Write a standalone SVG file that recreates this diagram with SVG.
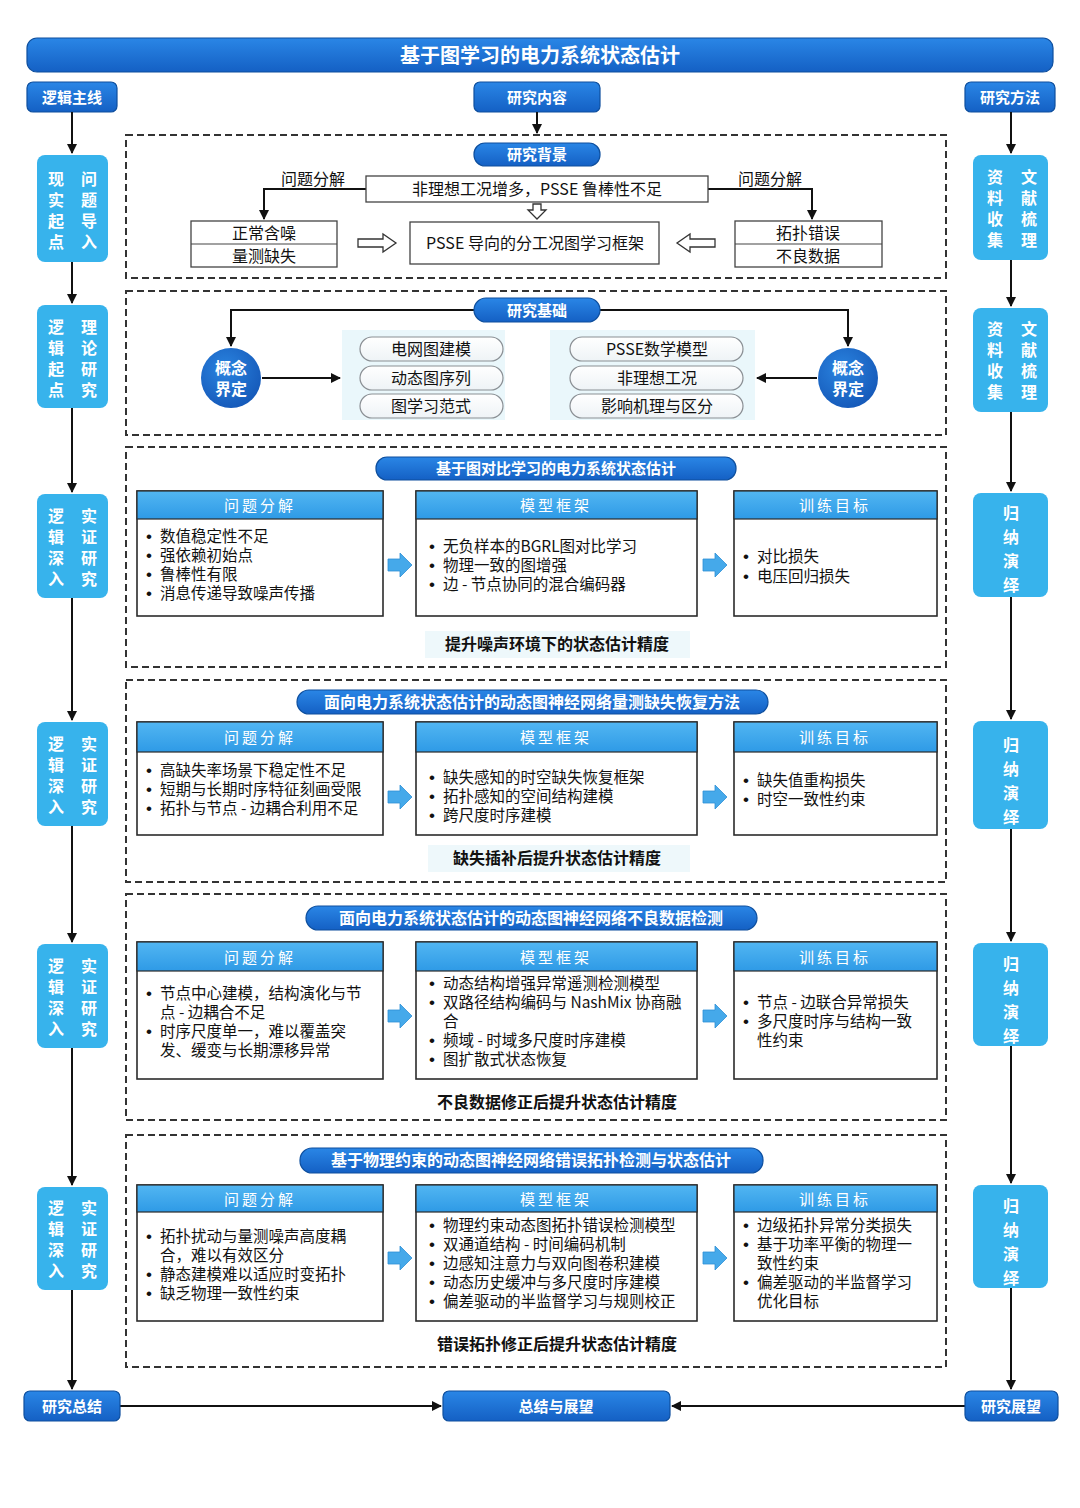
<svg xmlns="http://www.w3.org/2000/svg" width="1080" height="1508" viewBox="0 0 1080 1508">
<defs>
<linearGradient id="gBlue" x1="0" y1="0" x2="0" y2="1"><stop offset="0" stop-color="#2a86e6"/><stop offset="1" stop-color="#1460c4"/></linearGradient>
<linearGradient id="gHead" x1="0" y1="0" x2="0" y2="1"><stop offset="0" stop-color="#52b6f2"/><stop offset="1" stop-color="#2e9ae6"/></linearGradient>
<linearGradient id="gPill" x1="0" y1="0" x2="0" y2="1"><stop offset="0" stop-color="#ffffff"/><stop offset="1" stop-color="#eef3f6"/></linearGradient>
<radialGradient id="gCirc" cx="0.4" cy="0.35" r="0.7"><stop offset="0" stop-color="#2a84e0"/><stop offset="1" stop-color="#1558b8"/></radialGradient>
<marker id="ah" viewBox="0 0 10 10" refX="9" refY="5" markerWidth="10" markerHeight="10" markerUnits="userSpaceOnUse" orient="auto"><path d="M0,0 L10,5 L0,10 z" fill="#111"/></marker>
<g id="blk"><path d="M0,-6 H12 V-12 L24,0 L12,12 V6 H0 z" fill="#45a9ea" stroke="#2f8fd6" stroke-width="0.8"/></g>
</defs>
<style>
text{font-family:"Noto Sans CJK SC","Liberation Sans",sans-serif;}
.t{fill:#fff;font-weight:700;text-anchor:middle;}
.bar{fill:url(#gBlue);stroke:#0e4f9e;stroke-width:1.2;}
.col{fill:#37b3ec;}
.ct{fill:#fff;font-weight:700;font-size:16px;text-anchor:middle;}
.ln{fill:none;stroke:#111;stroke-width:2;}
.dash{fill:none;stroke:#333;stroke-width:2;stroke-dasharray:7 4;}
.bx{fill:#fff;stroke:#444;stroke-width:1.3;}
.bt{fill:#111;font-size:16px;text-anchor:middle;}
.hol{fill:#fff;stroke:#333;stroke-width:1.3;}
.pan{fill:#eaf7fb;}
.pl{fill:url(#gPill);stroke:#8a8f94;stroke-width:1.2;}
.pt{fill:#111;font-size:16px;text-anchor:middle;}
.card{fill:#fff;stroke:#2b2b2b;stroke-width:1.6;}
.hd{fill:url(#gHead);stroke:#2b2b2b;stroke-width:1.2;}
.ht{fill:#fff;font-size:15px;text-anchor:middle;letter-spacing:3px;}
.it{fill:#111;font-size:15.5px;}
.bu{font-family:"Liberation Sans",sans-serif;font-size:17px;}
.res{fill:#111;font-size:16px;font-weight:700;text-anchor:middle;}
.resbg{fill:#eef8fb;}
</style>
<rect width="1080" height="1508" fill="#fff"/>

<g id="title"><rect class="bar" x="27" y="38" width="1026" height="34" rx="10"/><text class="t" x="540" y="63" font-size="20">基于图学习的电力系统状态估计</text></g>
<g id="lbl-logic"><rect class="bar" x="27" y="82" width="90" height="30" rx="6"/><text class="t" x="72" y="103" font-size="15">逻辑主线</text></g>
<g id="lbl-content"><rect class="bar" x="474" y="82" width="126" height="30" rx="6"/><text class="t" x="537" y="103" font-size="15">研究内容</text></g>
<g id="lbl-method"><rect class="bar" x="965" y="82" width="90" height="30" rx="6"/><text class="t" x="1010" y="103" font-size="15">研究方法</text></g>

<g id="connectors">
<path class="ln" d="M72 112 V153" marker-end="url(#ah)"/>
<path class="ln" d="M72 262 V303" marker-end="url(#ah)"/>
<path class="ln" d="M72 408 V492" marker-end="url(#ah)"/>
<path class="ln" d="M72 598 V720" marker-end="url(#ah)"/>
<path class="ln" d="M72 826 V942" marker-end="url(#ah)"/>
<path class="ln" d="M72 1048 V1185" marker-end="url(#ah)"/>
<path class="ln" d="M72 1290 V1389" marker-end="url(#ah)"/>
<path class="ln" d="M1011 112 V153" marker-end="url(#ah)"/>
<path class="ln" d="M1011 260 V306" marker-end="url(#ah)"/>
<path class="ln" d="M1011 412 V491" marker-end="url(#ah)"/>
<path class="ln" d="M1011 597 V719" marker-end="url(#ah)"/>
<path class="ln" d="M1011 829 V941" marker-end="url(#ah)"/>
<path class="ln" d="M1011 1046 V1183" marker-end="url(#ah)"/>
<path class="ln" d="M1011 1288 V1389" marker-end="url(#ah)"/>
<path class="ln" d="M537 112 V133" marker-end="url(#ah)"/>
<path class="ln" d="M366 189 H264 V219" marker-end="url(#ah)"/>
<path class="ln" d="M708 189 H812 V219" marker-end="url(#ah)"/>
<path class="ln" d="M474 310 H231 V346" marker-end="url(#ah)"/>
<path class="ln" d="M600 310 H848 V346" marker-end="url(#ah)"/>
<path class="ln" d="M262 378 H340" marker-end="url(#ah)"/>
<path class="ln" d="M817 378 H757" marker-end="url(#ah)"/>
<path class="ln" d="M120 1406 H441" marker-end="url(#ah)"/>
<path class="ln" d="M965 1406 H672" marker-end="url(#ah)"/>
<path class="hol" d="M533 204 H541 V210 H546 L537 219 L528 210 H533 z"/>
<path class="hol" d="M358 239 H383 V234 L396 243 L383 252 V247 H358 z"/>
<path class="hol" d="M715 239 H690 V234 L677 243 L690 252 V247 H715 z"/>
<use href="#blk" x="388" y="565"/><use href="#blk" x="703" y="565"/>
<use href="#blk" x="388" y="797"/><use href="#blk" x="703" y="797"/>
<use href="#blk" x="388" y="1016"/><use href="#blk" x="703" y="1016"/>
<use href="#blk" x="388" y="1258"/><use href="#blk" x="703" y="1258"/>
</g>

<!-- left column -->
<g id="L1"><rect class="col" x="37" y="155" width="71" height="107" rx="8"/>
<text class="ct"><tspan x="56" y="185">现</tspan><tspan x="56" y="206">实</tspan><tspan x="56" y="227">起</tspan><tspan x="56" y="248">点</tspan><tspan x="89" y="185">问</tspan><tspan x="89" y="206">题</tspan><tspan x="89" y="227">导</tspan><tspan x="89" y="248">入</tspan></text></g>
<g id="L2"><rect class="col" x="37" y="305" width="71" height="103" rx="8"/>
<text class="ct"><tspan x="56" y="333">逻</tspan><tspan x="56" y="354">辑</tspan><tspan x="56" y="375">起</tspan><tspan x="56" y="396">点</tspan><tspan x="89" y="333">理</tspan><tspan x="89" y="354">论</tspan><tspan x="89" y="375">研</tspan><tspan x="89" y="396">究</tspan></text></g>
<g id="L3"><rect class="col" x="37" y="494" width="71" height="104" rx="8"/>
<text class="ct"><tspan x="56" y="522">逻</tspan><tspan x="56" y="543">辑</tspan><tspan x="56" y="564">深</tspan><tspan x="56" y="585">入</tspan><tspan x="89" y="522">实</tspan><tspan x="89" y="543">证</tspan><tspan x="89" y="564">研</tspan><tspan x="89" y="585">究</tspan></text></g>
<g id="L4"><rect class="col" x="37" y="722" width="71" height="104" rx="8"/>
<text class="ct"><tspan x="56" y="750">逻</tspan><tspan x="56" y="771">辑</tspan><tspan x="56" y="792">深</tspan><tspan x="56" y="813">入</tspan><tspan x="89" y="750">实</tspan><tspan x="89" y="771">证</tspan><tspan x="89" y="792">研</tspan><tspan x="89" y="813">究</tspan></text></g>
<g id="L5"><rect class="col" x="37" y="944" width="71" height="104" rx="8"/>
<text class="ct"><tspan x="56" y="972">逻</tspan><tspan x="56" y="993">辑</tspan><tspan x="56" y="1014">深</tspan><tspan x="56" y="1035">入</tspan><tspan x="89" y="972">实</tspan><tspan x="89" y="993">证</tspan><tspan x="89" y="1014">研</tspan><tspan x="89" y="1035">究</tspan></text></g>
<g id="L6"><rect class="col" x="37" y="1187" width="71" height="103" rx="8"/>
<text class="ct"><tspan x="56" y="1214">逻</tspan><tspan x="56" y="1235">辑</tspan><tspan x="56" y="1256">深</tspan><tspan x="56" y="1277">入</tspan><tspan x="89" y="1214">实</tspan><tspan x="89" y="1235">证</tspan><tspan x="89" y="1256">研</tspan><tspan x="89" y="1277">究</tspan></text></g>

<!-- right column -->
<g id="R1"><rect class="col" x="973" y="155" width="75" height="105" rx="8"/>
<text class="ct"><tspan x="995" y="183">资</tspan><tspan x="995" y="204">料</tspan><tspan x="995" y="225">收</tspan><tspan x="995" y="246">集</tspan><tspan x="1029" y="183">文</tspan><tspan x="1029" y="204">献</tspan><tspan x="1029" y="225">梳</tspan><tspan x="1029" y="246">理</tspan></text></g>
<g id="R2"><rect class="col" x="973" y="308" width="75" height="104" rx="8"/>
<text class="ct"><tspan x="995" y="335">资</tspan><tspan x="995" y="356">料</tspan><tspan x="995" y="377">收</tspan><tspan x="995" y="398">集</tspan><tspan x="1029" y="335">文</tspan><tspan x="1029" y="356">献</tspan><tspan x="1029" y="377">梳</tspan><tspan x="1029" y="398">理</tspan></text></g>
<g id="R3"><rect class="col" x="973" y="493" width="75" height="104" rx="8"/>
<text class="ct" font-size="17"><tspan x="1011" y="519">归</tspan><tspan x="1011" y="543">纳</tspan><tspan x="1011" y="567">演</tspan><tspan x="1011" y="591">绎</tspan></text></g>
<g id="R4"><rect class="col" x="973" y="721" width="75" height="108" rx="8"/>
<text class="ct"><tspan x="1011" y="751">归</tspan><tspan x="1011" y="775">纳</tspan><tspan x="1011" y="799">演</tspan><tspan x="1011" y="823">绎</tspan></text></g>
<g id="R5"><rect class="col" x="973" y="943" width="75" height="103" rx="8"/>
<text class="ct"><tspan x="1011" y="970">归</tspan><tspan x="1011" y="994">纳</tspan><tspan x="1011" y="1018">演</tspan><tspan x="1011" y="1042">绎</tspan></text></g>
<g id="R6"><rect class="col" x="973" y="1185" width="75" height="103" rx="8"/>
<text class="ct"><tspan x="1011" y="1212">归</tspan><tspan x="1011" y="1236">纳</tspan><tspan x="1011" y="1260">演</tspan><tspan x="1011" y="1284">绎</tspan></text></g>

<!-- section 1 -->
<g id="S1">
<rect class="dash" x="126" y="135" width="820" height="143"/>
<rect class="bar" x="474" y="143" width="126" height="23" rx="11"/><text class="t" x="537" y="160" font-size="15">研究背景</text>
<text class="bt" x="313" y="185">问题分解</text><text class="bt" x="770" y="185">问题分解</text>
<rect class="bx" x="366" y="176" width="342" height="26"/><text class="bt" x="537" y="195">非理想工况增多，PSSE 鲁棒性不足</text>
<rect class="bx" x="191" y="221" width="146" height="46"/><line x1="191" y1="244" x2="337" y2="244" stroke="#444" stroke-width="1.2"/>
<text class="bt" x="264" y="239">正常含噪</text><text class="bt" x="264" y="262">量测缺失</text>
<rect class="bx" x="410" y="222" width="249" height="42"/><text class="bt" x="535" y="249">PSSE 导向的分工况图学习框架</text>
<rect class="bx" x="735" y="221" width="147" height="46"/><line x1="735" y1="244" x2="882" y2="244" stroke="#444" stroke-width="1.2"/>
<text class="bt" x="808" y="239">拓扑错误</text><text class="bt" x="808" y="262">不良数据</text>
</g>

<!-- section 2 -->
<g id="S2">
<rect class="dash" x="126" y="291" width="820" height="144"/>
<rect class="bar" x="474" y="298" width="126" height="24" rx="12"/><text class="t" x="537" y="316" font-size="15">研究基础</text>
<rect class="pan" x="342" y="330" width="163" height="90"/><rect class="pan" x="550" y="330" width="205" height="90"/>
<circle cx="231" cy="378" r="30" fill="url(#gCirc)"/><text class="ct"><tspan x="231" y="374">概念</tspan><tspan x="231" y="395">界定</tspan></text>
<circle cx="848" cy="378" r="30" fill="url(#gCirc)"/><text class="ct"><tspan x="848" y="374">概念</tspan><tspan x="848" y="395">界定</tspan></text>
<rect class="pl" x="360" y="337" width="143" height="24" rx="12"/><text class="pt" x="431" y="355">电网图建模</text>
<rect class="pl" x="360" y="366" width="143" height="24" rx="12"/><text class="pt" x="431" y="384">动态图序列</text>
<rect class="pl" x="360" y="394" width="143" height="24" rx="12"/><text class="pt" x="431" y="412">图学习范式</text>
<rect class="pl" x="570" y="337" width="173" height="24" rx="12"/><text class="pt" x="657" y="355">PSSE数学模型</text>
<rect class="pl" x="570" y="366" width="173" height="24" rx="12"/><text class="pt" x="657" y="384">非理想工况</text>
<rect class="pl" x="570" y="394" width="173" height="24" rx="12"/><text class="pt" x="657" y="412">影响机理与区分</text>
</g>

<!-- section 3 -->
<g id="S3">
<rect class="dash" x="126" y="447" width="820" height="220"/>
<rect class="bar" x="376" y="457" width="360" height="23" rx="11"/><text class="t" x="556" y="474" font-size="15">基于图对比学习的电力系统状态估计</text>
<rect class="card" x="137" y="491" width="246" height="125"/><rect class="hd" x="137" y="491" width="246" height="28"/><text class="ht" x="260" y="511">问题分解</text>
<text class="it"><tspan class="bu" x="146" y="542">•</tspan><tspan dx="8">数值稳定性不足</tspan><tspan class="bu" x="146" y="561">•</tspan><tspan dx="8">强依赖初始点</tspan><tspan class="bu" x="146" y="580">•</tspan><tspan dx="8">鲁棒性有限</tspan><tspan class="bu" x="146" y="599">•</tspan><tspan dx="8">消息传递导致噪声传播</tspan></text>
<rect class="card" x="416" y="491" width="281" height="125"/><rect class="hd" x="416" y="491" width="281" height="28"/><text class="ht" x="556" y="511">模型框架</text>
<text class="it"><tspan class="bu" x="429" y="552">•</tspan><tspan dx="8">无负样本的BGRL图对比学习</tspan><tspan class="bu" x="429" y="571">•</tspan><tspan dx="8">物理一致的图增强</tspan><tspan class="bu" x="429" y="590">•</tspan><tspan dx="8">边 - 节点协同的混合编码器</tspan></text>
<rect class="card" x="734" y="491" width="203" height="125"/><rect class="hd" x="734" y="491" width="203" height="28"/><text class="ht" x="835" y="511">训练目标</text>
<text class="it"><tspan class="bu" x="743" y="562">•</tspan><tspan dx="8">对比损失</tspan><tspan class="bu" x="743" y="582">•</tspan><tspan dx="8">电压回归损失</tspan></text>
<rect class="resbg" x="425" y="631" width="265" height="27"/><text class="res" x="557" y="650">提升噪声环境下的状态估计精度</text>
</g>

<!-- section 4 -->
<g id="S4">
<rect class="dash" x="126" y="680" width="820" height="202"/>
<rect class="bar" x="297" y="690" width="471" height="24" rx="12"/><text class="t" x="532" y="708" font-size="16">面向电力系统状态估计的动态图神经网络量测缺失恢复方法</text>
<rect class="card" x="137" y="722" width="246" height="113"/><rect class="hd" x="137" y="722" width="246" height="30"/><text class="ht" x="260" y="743">问题分解</text>
<text class="it"><tspan class="bu" x="146" y="776">•</tspan><tspan dx="8">高缺失率场景下稳定性不足</tspan><tspan class="bu" x="146" y="795">•</tspan><tspan dx="8">短期与长期时序特征刻画受限</tspan><tspan class="bu" x="146" y="814">•</tspan><tspan dx="8">拓扑与节点 - 边耦合利用不足</tspan></text>
<rect class="card" x="416" y="722" width="281" height="113"/><rect class="hd" x="416" y="722" width="281" height="30"/><text class="ht" x="556" y="743">模型框架</text>
<text class="it"><tspan class="bu" x="429" y="783">•</tspan><tspan dx="8">缺失感知的时空缺失恢复框架</tspan><tspan class="bu" x="429" y="802">•</tspan><tspan dx="8">拓扑感知的空间结构建模</tspan><tspan class="bu" x="429" y="821">•</tspan><tspan dx="8">跨尺度时序建模</tspan></text>
<rect class="card" x="734" y="722" width="203" height="113"/><rect class="hd" x="734" y="722" width="203" height="30"/><text class="ht" x="835" y="743">训练目标</text>
<text class="it"><tspan class="bu" x="743" y="786">•</tspan><tspan dx="8">缺失值重构损失</tspan><tspan class="bu" x="743" y="805">•</tspan><tspan dx="8">时空一致性约束</tspan></text>
<rect class="resbg" x="428" y="845" width="262" height="27"/><text class="res" x="557" y="864">缺失插补后提升状态估计精度</text>
</g>

<!-- section 5 -->
<g id="S5">
<rect class="dash" x="126" y="894" width="820" height="226"/>
<rect class="bar" x="306" y="906" width="451" height="24" rx="12"/><text class="t" x="531" y="924" font-size="16">面向电力系统状态估计的动态图神经网络不良数据检测</text>
<rect class="card" x="137" y="942" width="246" height="137"/><rect class="hd" x="137" y="942" width="246" height="29"/><text class="ht" x="260" y="963">问题分解</text>
<text class="it"><tspan class="bu" x="146" y="999">•</tspan><tspan dx="8">节点中心建模，结构演化与节</tspan><tspan x="160" y="1018">点 - 边耦合不足</tspan><tspan class="bu" x="146" y="1037">•</tspan><tspan dx="8">时序尺度单一，难以覆盖突</tspan><tspan x="160" y="1056">发、缓变与长期漂移异常</tspan></text>
<rect class="card" x="416" y="942" width="281" height="137"/><rect class="hd" x="416" y="942" width="281" height="29"/><text class="ht" x="556" y="963">模型框架</text>
<text class="it"><tspan class="bu" x="429" y="989">•</tspan><tspan dx="8">动态结构增强异常遥测检测模型</tspan><tspan class="bu" x="429" y="1008">•</tspan><tspan dx="8">双路径结构编码与 NashMix 协商融</tspan><tspan x="443" y="1027">合</tspan><tspan class="bu" x="429" y="1046">•</tspan><tspan dx="8">频域 - 时域多尺度时序建模</tspan><tspan class="bu" x="429" y="1065">•</tspan><tspan dx="8">图扩散式状态恢复</tspan></text>
<rect class="card" x="734" y="942" width="203" height="137"/><rect class="hd" x="734" y="942" width="203" height="29"/><text class="ht" x="835" y="963">训练目标</text>
<text class="it"><tspan class="bu" x="743" y="1008">•</tspan><tspan dx="8">节点 - 边联合异常损失</tspan><tspan class="bu" x="743" y="1027">•</tspan><tspan dx="8">多尺度时序与结构一致</tspan><tspan x="757" y="1046">性约束</tspan></text>
<text class="res" x="557" y="1108">不良数据修正后提升状态估计精度</text>
</g>

<!-- section 6 -->
<g id="S6">
<rect class="dash" x="126" y="1135" width="820" height="232"/>
<rect class="bar" x="300" y="1148" width="463" height="25" rx="12"/><text class="t" x="531" y="1166" font-size="16">基于物理约束的动态图神经网络错误拓扑检测与状态估计</text>
<rect class="card" x="137" y="1185" width="246" height="136"/><rect class="hd" x="137" y="1185" width="246" height="27"/><text class="ht" x="260" y="1205">问题分解</text>
<text class="it"><tspan class="bu" x="146" y="1242">•</tspan><tspan dx="8">拓扑扰动与量测噪声高度耦</tspan><tspan x="160" y="1261">合，难以有效区分</tspan><tspan class="bu" x="146" y="1280">•</tspan><tspan dx="8">静态建模难以适应时变拓扑</tspan><tspan class="bu" x="146" y="1299">•</tspan><tspan dx="8">缺乏物理一致性约束</tspan></text>
<rect class="card" x="416" y="1185" width="281" height="136"/><rect class="hd" x="416" y="1185" width="281" height="27"/><text class="ht" x="556" y="1205">模型框架</text>
<text class="it"><tspan class="bu" x="429" y="1231">•</tspan><tspan dx="8">物理约束动态图拓扑错误检测模型</tspan><tspan class="bu" x="429" y="1250">•</tspan><tspan dx="8">双通道结构 - 时间编码机制</tspan><tspan class="bu" x="429" y="1269">•</tspan><tspan dx="8">边感知注意力与双向图卷积建模</tspan><tspan class="bu" x="429" y="1288">•</tspan><tspan dx="8">动态历史缓冲与多尺度时序建模</tspan><tspan class="bu" x="429" y="1307">•</tspan><tspan dx="8">偏差驱动的半监督学习与规则校正</tspan></text>
<rect class="card" x="734" y="1185" width="203" height="136"/><rect class="hd" x="734" y="1185" width="203" height="27"/><text class="ht" x="835" y="1205">训练目标</text>
<text class="it"><tspan class="bu" x="743" y="1231">•</tspan><tspan dx="8">边级拓扑异常分类损失</tspan><tspan class="bu" x="743" y="1250">•</tspan><tspan dx="8">基于功率平衡的物理一</tspan><tspan x="757" y="1269">致性约束</tspan><tspan class="bu" x="743" y="1288">•</tspan><tspan dx="8">偏差驱动的半监督学习</tspan><tspan x="757" y="1307">优化目标</tspan></text>
<text class="res" x="557" y="1350">错误拓扑修正后提升状态估计精度</text>
</g>

<g id="B-summary"><rect class="bar" x="24" y="1391" width="96" height="30" rx="6"/><text class="t" x="72" y="1412" font-size="15">研究总结</text></g>
<g id="B-center"><rect class="bar" x="443" y="1391" width="227" height="30" rx="6"/><text class="t" x="556" y="1412" font-size="15">总结与展望</text></g>
<g id="B-outlook"><rect class="bar" x="965" y="1391" width="93" height="30" rx="6"/><text class="t" x="1011" y="1412" font-size="15">研究展望</text></g>
</svg>
